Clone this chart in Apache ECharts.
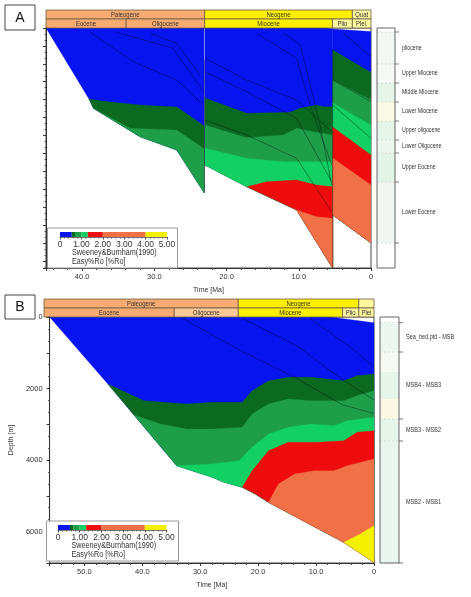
<!DOCTYPE html>
<html><head><meta charset="utf-8">
<script src="https://cdn.jsdelivr.net/npm/echarts@6/dist/echarts.min.js"></script>
<style>html,body{margin:0;padding:0;background:#fff}#c{width:471px;height:597px}</style>
</head><body><div id="c"></div>
<script>
const FONT = '"Liberation Sans", Arial, sans-serif';
const NARROW = '"Liberation Sans Narrow", "Liberation Sans", Arial, sans-serif';

// ---------- axis ranges ----------
const A_TIME_MAX = 45, B_TIME_MAX = 56;
const A_DEPTH_MAX = 6700, B_DEPTH_MAX = 6880;

// ---------- geological time scale ----------
const periodNamesA = ['Paleogene', 'Neogene', 'Quat'];
const periodNamesB = ['Paleogene', 'Neogene', ''];
const periodStart = [66, 23.03, 2.58];
const periodEnd = [23.03, 2.58, 0];
const epochNamesA = ['Eocene', 'Oligocene', 'Miocene', 'Plio', 'Plei.'];
const epochNamesB = ['Eocene', 'Oligocene', 'Miocene', 'Plio', 'Plei'];
const epochStart = [56, 33.9, 23.03, 5.333, 2.58];
const epochEnd = [33.9, 23.03, 5.333, 2.58, 0];
const periodColors = ['#f8ab70', '#fff000', '#fff7a0'];
const epochColorsA = ['#f8ab70', '#f8ab70', '#fff000', '#fff7a0', '#fff7a0'];
const epochColorsB = ['#f8ab70', '#fcc896', '#fff000', '#fff7a0', '#fff7a0'];

// ---------- maturity (Easy%Ro) classes ----------
const roLevels = [0, 0.55, 0.7, 1.0, 1.3, 2.0, 4.0, 5.0];
const roColors = ['#0814f0', '#0b6a20', '#1f9e4a', '#12d064', '#ee0c0c', '#f07048', '#f4f000'];

// ---------- Panel A burial history: [time Ma, depth m] ----------
const A_seg1_top = [[45, 0], [23.1, 0]];
const A_seg1_bottom = [[45, 0], [39.05, 1982], [38.45, 2242], [31.99, 3035], [26.9, 3406], [23.1, 4600]];
const A_seg1_blueBase = [[39.05, 1982], [37.25, 2038], [32.0, 2150], [26.86, 2206], [23.26, 2708], [23.1, 2736]];
const A_seg1_dkBase = [[38.45, 2242], [33.37, 2800], [26.9, 2848], [23.22, 3359], [23.1, 3370]];

const A_seg2_top = [[23.0, 0], [6.1, 0], [5.3, 25]];
const A_seg2_bottom = [[23.0, 3825], [17.21, 4431], [10.29, 5081], [5.44, 6664], [5.3, 6700]];
const A_seg2_blueBase = [[23.0, 1954], [17.21, 2382], [11.22, 2354], [9.83, 2242], [7.52, 2150], [6.6, 2197], [5.3, 2197]];
const A_seg2_dkBase = [[23.0, 2708], [17.21, 3063], [12.14, 2987], [10.29, 2800], [7.99, 2895], [5.3, 2987]];
const A_seg2_mdBase = [[23.0, 3359], [17.21, 3638], [12.14, 3733], [7.52, 3733], [5.3, 3733]];
const A_seg2_ltBase = [[17.21, 4431], [14.44, 4291], [10.29, 4244], [7.52, 4383], [5.3, 4431]];
const A_seg2_redBase = [[10.29, 5081], [7.52, 5268], [5.3, 5313]];

const A_seg3_top = [[5.3, 25], [0, 100]];
const A_seg3_bottom = [[5.3, 5221], [0, 6000]];
const A_seg3_blueBase = [[5.3, 614], [0, 1240]];
const A_seg3_dkBase = [[5.3, 1452], [0, 2010]];
const A_seg3_mdBase = [[5.3, 2094], [0, 2708]];
const A_seg3_ltBase = [[5.3, 2764], [0, 3546]];
const A_seg3_redBase = [[5.3, 3630], [0, 4383]];

const A_horizons = [
  [[38.9, 120], [32.9, 942], [26.9, 1452], [23.2, 2150]],
  [[35.2, 120], [27.4, 567], [23.2, 1778]],
  [[30.6, 148], [26.9, 427], [23.7, 1312]],
  [[23.0, 846], [17.2, 1452], [10.3, 2010], [5.44, 2895]],
  [[23.0, 1220], [17.2, 1778], [10.3, 2521], [5.44, 4291]],
  [[23.0, 2569], [17.2, 2987], [10.3, 3638], [5.44, 5129]],
  [[15.8, 148], [10.3, 846], [8.45, 2150], [5.44, 3825]],
  [[12.1, 148], [9.8, 475], [7.06, 2708], [5.44, 4383]],
  [[5.3, 1452], [0, 2057]],
  [[5.3, 2150], [0, 3080]],
  [[3.84, 148], [0, 800]],
  [[23.05, 900], [23.05, 4600]],
  [[5.3, 600], [5.3, 6700]]
];

// ---------- Panel B burial history ----------
const B_top = [[56, 0], [7.5, 0], [0, 160]];
const B_bottom = [[56, 0], [45.94, 1874], [34.06, 4159], [27.83, 4484], [26.13, 4606], [22.74, 4763], [20.48, 4951], [18.21, 5183], [12.56, 5669], [5.21, 6302], [0, 6861]];
const B_blueBase = [[45.94, 1874], [39.71, 2341], [32.36, 2433], [27.83, 2386], [22.74, 2386], [21.04, 2061], [18.21, 1782], [14.81, 1687], [10.86, 1687], [5.21, 1782], [2.94, 1642], [0, 1594]];
const B_dkBase = [[41.4, 2740], [36.87, 2993], [32.36, 3133], [27.83, 3133], [22.74, 3085], [21.04, 2713], [18.21, 2433], [14.81, 2294], [10.86, 2341], [5.21, 2341], [2.94, 2201], [0, 2061]];
const B_mdBase = [[34.06, 4159], [27.83, 4111], [23.3, 4019], [21.04, 3645], [18.21, 3272], [14.81, 3085], [10.86, 2993], [6.91, 3040], [4.63, 2900], [0, 2805]];
const B_ltBase = [[22.74, 4763], [21.04, 4299], [18.21, 3740], [14.81, 3505], [9.72, 3505], [5.21, 3460], [2.94, 3225], [0, 3180]];
const B_redBase = [[18.21, 5183], [16.51, 4671], [13.69, 4391], [10.3, 4299], [6.91, 4299], [4.63, 4159], [0, 3972]];
const B_orBase = [[5.21, 6302], [2.38, 6070], [0, 5837]];

const B_horizons = [
  [[33.5, 0], [22.7, 970], [13.5, 1700], [5.5, 2450], [0, 2700]],
  [[22.7, 37], [13.1, 830], [5.77, 1715], [0, 2322]],
  [[10.9, 56], [4.1, 839], [0, 1398]]
];

// ---------- lithology columns ----------
const A_lithoTops = [112, 1005, 1536, 2066, 2597, 3127, 3490, 4300, 6003];
const A_lithoNames = ['pliocene', 'Upper Miocene', 'Middle Miocene', 'Lower Miocene', 'Upper oligocene', 'Lower Oligocene', 'Upper Eocene', 'Lower Eocene'];
const A_lithoFill = ['#f3f8f4', '#f6f9f6', '#e6f4ea', '#fbfae6', '#e6f4ea', '#edf6ef', '#e2f4e8', '#f1f6f2'];
const B_lithoTops = [159, 979, 2853, 3468, 6880];
const B_lithoNames = ['Sea_bed.ptd - MSB', 'MSB4 - MSB3', 'MSB3 - MSB2', 'MSB2 - MSB1'];
const B_fillTops = [159, 979, 1538, 2294, 2853, 3468, 6880];
const B_fillColors = ['#eef6f1', '#f7f9f4', '#e6f4ea', '#fbf9e6', '#e6f4ea', '#e9f5ee'];

// ---------- helpers ----------
function zonePoly(base, bottom) {
  const tS = base[0][0], tE = base[base.length - 1][0];
  const back = bottom.filter(p => p[0] <= tS + 1e-9 && p[0] >= tE - 1e-9).slice().reverse();
  return base.concat(back);
}
function sectionPoly(top, bottom) { return top.concat(bottom.slice().reverse()); }

const A_polys = [], A_cols = [];
function addPoly(list, cols, p, c) { list.push(p); cols.push(c); }
addPoly(A_polys, A_cols, sectionPoly(A_seg1_top, A_seg1_bottom), roColors[0]);
addPoly(A_polys, A_cols, zonePoly(A_seg1_blueBase, A_seg1_bottom), roColors[1]);
addPoly(A_polys, A_cols, zonePoly(A_seg1_dkBase, A_seg1_bottom), roColors[2]);
addPoly(A_polys, A_cols, sectionPoly(A_seg2_top, A_seg2_bottom), roColors[0]);
addPoly(A_polys, A_cols, zonePoly(A_seg2_blueBase, A_seg2_bottom), roColors[1]);
addPoly(A_polys, A_cols, zonePoly(A_seg2_dkBase, A_seg2_bottom), roColors[2]);
addPoly(A_polys, A_cols, zonePoly(A_seg2_mdBase, A_seg2_bottom), roColors[3]);
addPoly(A_polys, A_cols, zonePoly(A_seg2_ltBase, A_seg2_bottom), roColors[4]);
addPoly(A_polys, A_cols, zonePoly(A_seg2_redBase, A_seg2_bottom), roColors[5]);
addPoly(A_polys, A_cols, sectionPoly(A_seg3_top, A_seg3_bottom), roColors[0]);
addPoly(A_polys, A_cols, zonePoly(A_seg3_blueBase, A_seg3_bottom), roColors[1]);
addPoly(A_polys, A_cols, zonePoly(A_seg3_dkBase, A_seg3_bottom), roColors[2]);
addPoly(A_polys, A_cols, zonePoly(A_seg3_mdBase, A_seg3_bottom), roColors[3]);
addPoly(A_polys, A_cols, zonePoly(A_seg3_ltBase, A_seg3_bottom), roColors[4]);
addPoly(A_polys, A_cols, zonePoly(A_seg3_redBase, A_seg3_bottom), roColors[5]);

const B_polys = [], B_cols = [];
addPoly(B_polys, B_cols, sectionPoly(B_top, B_bottom), roColors[0]);
addPoly(B_polys, B_cols, zonePoly(B_blueBase, B_bottom), roColors[1]);
addPoly(B_polys, B_cols, zonePoly(B_dkBase, B_bottom), roColors[2]);
addPoly(B_polys, B_cols, zonePoly(B_mdBase, B_bottom), roColors[3]);
addPoly(B_polys, B_cols, zonePoly(B_ltBase, B_bottom), roColors[4]);
addPoly(B_polys, B_cols, zonePoly(B_redBase, B_bottom), roColors[5]);
addPoly(B_polys, B_cols, zonePoly(B_orBase, B_bottom), roColors[6]);

function zoneSeries(polys, cols, xi, yi) {
  return {
    type: 'custom', xAxisIndex: xi, yAxisIndex: yi, clip: true, silent: true, z: 2,
    data: polys.map((p, i) => i),
    renderItem(params, api) {
      const poly = polys[params.dataIndex];
      return { type: 'polygon', shape: { points: poly.map(p => api.coord(p)) }, style: { fill: cols[params.dataIndex], stroke: cols[params.dataIndex], lineWidth: 0.3 } };
    }
  };
}
function horizonSeries(lines, xi, yi) {
  return lines.map(l => ({
    type: 'line', xAxisIndex: xi, yAxisIndex: yi, data: l, symbol: 'none', silent: true, z: 3,
    lineStyle: { color: 'rgba(0,0,0,0.5)', width: 0.7 }
  }));
}
function headerSeries(xi, yi, tmax, pNames, eNames, eCols) {
  const cells = [];
  pNames.forEach((n, i) => cells.push([periodStart[i], periodEnd[i], 0, n, periodColors[i]]));
  eNames.forEach((n, i) => cells.push([epochStart[i], epochEnd[i], 1, n, eCols[i]]));
  return {
    type: 'custom', xAxisIndex: xi, yAxisIndex: yi, clip: false, silent: true, z: 4,
    data: cells.map((c, i) => i),
    renderItem(params, api) {
      const c = cells[params.dataIndex];
      const p1 = api.coord([Math.min(c[0], tmax), c[2]]);
      const p2 = api.coord([c[1], c[2] + 1]);
      const x = Math.min(p1[0], p2[0]), w = Math.abs(p2[0] - p1[0]);
      const y = Math.min(p1[1], p2[1]), h = Math.abs(p2[1] - p1[1]);
      return {
        type: 'group', children: [
          { type: 'rect', shape: { x, y, width: w, height: h }, style: { fill: c[4], stroke: '#6a5a40', lineWidth: 0.8 } },
          { type: 'text', x: x + w / 2, y: y + h / 2 + 0.5, scaleX: 0.85, style: { text: c[3], font: '7px ' + FONT, fill: '#333', align: 'center', verticalAlign: 'middle', textAlign: 'center', textVerticalAlign: 'middle' } }
        ]
      };
    }
  };
}
function lithoSeries(xi, yi, fillTops, fillCols, tops, names, dmax, scale, fontSize) {
  return [{
    type: 'custom', xAxisIndex: xi, yAxisIndex: yi, clip: false, silent: true, z: 4,
    data: fillCols.map((c, i) => i),
    renderItem(params, api) {
      const i = params.dataIndex;
      const p1 = api.coord([0, fillTops[i]]), p2 = api.coord([1, fillTops[i + 1]]);
      return { type: 'rect', shape: { x: p1[0], y: p1[1], width: p2[0] - p1[0], height: p2[1] - p1[1] }, style: { fill: fillCols[i] } };
    }
  }, {
    type: 'custom', xAxisIndex: xi, yAxisIndex: yi, clip: false, silent: true, z: 5,
    data: tops.map((c, i) => i),
    renderItem(params, api) {
      const i = params.dataIndex;
      const p = api.coord([1, tops[i]]), q = api.coord([0, tops[i]]);
      const ch = [
        { type: 'line', shape: { x1: q[0], y1: p[1], x2: p[0], y2: p[1] }, style: { stroke: '#c8cfc8', lineWidth: 0.6, lineDash: [2, 2] } },
        { type: 'line', shape: { x1: p[0], y1: p[1], x2: p[0] + 4, y2: p[1] }, style: { stroke: '#555', lineWidth: 0.8 } }
      ];
      if (i < names.length) {
        const m = api.coord([1, (tops[i] + tops[i + 1]) / 2]);
        ch.push({ type: 'text', x: m[0] + 7, y: m[1], scaleX: scale, style: { text: names[i], font: fontSize + 'px ' + FONT, fill: '#333', align: 'left', verticalAlign: 'middle', textAlign: 'left', textVerticalAlign: 'middle' } });
      }
      return { type: 'group', children: ch };
    }
  }, {
    type: 'custom', xAxisIndex: xi, yAxisIndex: yi, clip: false, silent: true, z: 6,
    data: [0],
    renderItem(params, api) {
      const p1 = api.coord([0, 0]), p2 = api.coord([1, dmax]);
      return { type: 'rect', shape: { x: p1[0], y: p1[1], width: p2[0] - p1[0], height: p2[1] - p1[1] }, style: { fill: 'none', stroke: '#666', lineWidth: 1 } };
    }
  }];
}
function legendBarSeries(xi, yi) {
  return {
    type: 'custom', xAxisIndex: xi, yAxisIndex: yi, clip: false, silent: true, z: 60,
    data: roColors.map((c, i) => i),
    renderItem(params, api) {
      const i = params.dataIndex;
      const p1 = api.coord([roLevels[i], 1]), p2 = api.coord([roLevels[i + 1], 0]);
      return { type: 'rect', shape: { x: p1[0], y: p1[1], width: p2[0] - p1[0], height: p2[1] - p1[1] }, style: { fill: roColors[i] } };
    }
  };
}

// ---------- axes ----------
const timeFmt = v => (v === 0 ? '0' : v.toFixed(1));
function timeAxis(grid, max, show) {
  return {
    type: 'value', gridIndex: grid, min: 0, max: max, interval: 10, inverse: true, z: 5,
    show: show,
    axisLine: { show: true, onZero: false, lineStyle: { color: '#333', width: 1 } },
    axisTick: { show: true, length: 3, lineStyle: { color: '#333' } },
    minorTick: { show: true, splitNumber: 5, length: 2, lineStyle: { color: '#444' } },
    axisLabel: { show: true, formatter: timeFmt, fontSize: 7.5, fontFamily: NARROW, color: '#333', margin: 5, showMaxLabel: false },
    splitLine: { show: false },
    name: 'Time [Ma]', nameLocation: 'middle', nameGap: 19,
    nameTextStyle: { fontSize: 7, fontFamily: NARROW, color: '#333' }
  };
}
function hiddenAxis(grid, min, max, inverse) {
  return { type: 'value', gridIndex: grid, min, max, inverse: !!inverse, show: false, splitLine: { show: false } };
}
function legendAxis(grid) {
  return {
    type: 'value', gridIndex: grid, min: 0, max: 5, interval: 1, z: 61,
    axisLine: { show: true, lineStyle: { color: '#555', width: 0.8 } },
    axisTick: { show: true, length: 2.5, inside: false, lineStyle: { color: '#555' } },
    minorTick: { show: true, splitNumber: 5, length: 1.5, lineStyle: { color: '#666' } },
    axisLabel: { formatter: v => (v === 0 ? '0' : v.toFixed(2)), fontSize: 8.5, fontFamily: NARROW, color: '#333', margin: 3 },
    splitLine: { show: false }
  };
}

const option = {
  animation: false,
  backgroundColor: '#fff',
  grid: [
    { left: 46, top: 28, width: 325, height: 240, show: true, borderColor: '#444', borderWidth: 1, backgroundColor: 'transparent' },
    { left: 46, top: 10, width: 325, height: 18 },
    { left: 377, top: 28, width: 18, height: 240 },
    { left: 60, top: 232, width: 107, height: 5 },
    { left: 44, top: 317, width: 330, height: 246, show: true, borderColor: '#444', borderWidth: 1, backgroundColor: 'transparent' },
    { left: 44, top: 299, width: 330, height: 18 },
    { left: 380, top: 317, width: 19, height: 246 },
    { left: 58, top: 525, width: 108.5, height: 5 }
  ],
  xAxis: [
    timeAxis(0, A_TIME_MAX, true),
    hiddenAxis(1, 0, A_TIME_MAX, true),
    hiddenAxis(2, 0, 1),
    legendAxis(3),
    timeAxis(4, B_TIME_MAX, true),
    hiddenAxis(5, 0, B_TIME_MAX, true),
    hiddenAxis(6, 0, 1),
    legendAxis(7)
  ],
  yAxis: [
    {
      type: 'value', gridIndex: 0, min: 0, max: A_DEPTH_MAX, interval: 500, inverse: true, z: 5,
      axisLine: { show: true, onZero: false, lineStyle: { color: '#333' } },
      axisTick: { show: true, length: 3, lineStyle: { color: '#333' } },
      minorTick: { show: true, splitNumber: 3, length: 1.5, lineStyle: { color: '#555' } },
      axisLabel: { show: false }, splitLine: { show: false }
    },
    hiddenAxis(1, 0, 2, true),
    hiddenAxis(2, 0, A_DEPTH_MAX, true),
    hiddenAxis(3, 0, 1),
    {
      type: 'value', gridIndex: 4, min: 0, max: B_DEPTH_MAX, interval: 1000, inverse: true, z: 5,
      axisLine: { show: true, onZero: false, lineStyle: { color: '#333' } },
      axisTick: { show: true, length: 3, lineStyle: { color: '#333' } },
      minorTick: { show: true, splitNumber: 3, length: 1.5, lineStyle: { color: '#555' } },
      axisLabel: { formatter: v => (v % 2000 === 0 ? String(v) : ''), fontSize: 7.5, fontFamily: NARROW, color: '#333', margin: 7, showMaxLabel: false },
      splitLine: { show: false },
      name: 'Depth [m]', nameLocation: 'middle', nameGap: 29, nameRotate: 90,
      nameTextStyle: { fontSize: 7, fontFamily: NARROW, color: '#333' }
    },
    hiddenAxis(5, 0, 2, true),
    hiddenAxis(6, 0, B_DEPTH_MAX, true),
    hiddenAxis(7, 0, 1)
  ],
  series: [].concat(
    [zoneSeries(A_polys, A_cols, 0, 0)],
    horizonSeries(A_horizons, 0, 0),
    [headerSeries(1, 1, A_TIME_MAX, periodNamesA, epochNamesA, epochColorsA)],
    lithoSeries(2, 2, A_lithoTops.slice(0, 1).concat(A_lithoTops.slice(1)), A_lithoFill, A_lithoTops, A_lithoNames, A_DEPTH_MAX, 0.75, 7),
    [legendBarSeries(3, 3)],
    [zoneSeries(B_polys, B_cols, 4, 4)],
    horizonSeries(B_horizons, 4, 4),
    [headerSeries(5, 5, B_TIME_MAX, periodNamesB, epochNamesB, epochColorsB)],
    lithoSeries(6, 6, B_fillTops, B_fillColors, B_lithoTops, B_lithoNames, B_DEPTH_MAX, 0.85, 6.5),
    [legendBarSeries(7, 7)]
  ),
  graphic: [
    { type: 'rect', z: 50, shape: { x: 5, y: 5, width: 30, height: 25 }, style: { fill: '#fff', stroke: '#444', lineWidth: 1 } },
    { type: 'text', z: 51, x: 20, y: 18, style: { text: 'A', font: '14px ' + FONT, fill: '#111', textAlign: 'center', textVerticalAlign: 'middle', align: 'center', verticalAlign: 'middle' } },
    { type: 'rect', z: 50, shape: { x: 5, y: 295, width: 30, height: 24 }, style: { fill: '#fff', stroke: '#444', lineWidth: 1 } },
    { type: 'text', z: 51, x: 20, y: 307, style: { text: 'B', font: '14px ' + FONT, fill: '#111', textAlign: 'center', textVerticalAlign: 'middle', align: 'center', verticalAlign: 'middle' } },
    { type: 'rect', z: 50, shape: { x: 47.5, y: 228, width: 130, height: 40 }, style: { fill: '#fff', stroke: '#999', lineWidth: 1 } },
    { type: 'text', z: 51, x: 72, y: 252.5, scaleX: 0.85, style: { text: 'Sweeney&Burnham(1990)', font: '8.5px ' + FONT, fill: '#333', textVerticalAlign: 'middle', verticalAlign: 'middle' } },
    { type: 'text', z: 51, x: 72, y: 261.5, scaleX: 0.85, style: { text: 'Easy%Ro [%Ro]', font: '8.5px ' + FONT, fill: '#333', textVerticalAlign: 'middle', verticalAlign: 'middle' } },
    { type: 'rect', z: 50, shape: { x: 46.5, y: 521, width: 132, height: 40 }, style: { fill: '#fff', stroke: '#999', lineWidth: 1 } },
    { type: 'text', z: 51, x: 71.5, y: 546, scaleX: 0.85, style: { text: 'Sweeney&Burnham(1990)', font: '8.5px ' + FONT, fill: '#333', textVerticalAlign: 'middle', verticalAlign: 'middle' } },
    { type: 'text', z: 51, x: 71.5, y: 555, scaleX: 0.85, style: { text: 'Easy%Ro [%Ro]', font: '8.5px ' + FONT, fill: '#333', textVerticalAlign: 'middle', verticalAlign: 'middle' } }
  ]
};

const chart = echarts.init(document.getElementById('c'), null, { renderer: 'canvas' });
chart.setOption(option);
</script></body></html>
